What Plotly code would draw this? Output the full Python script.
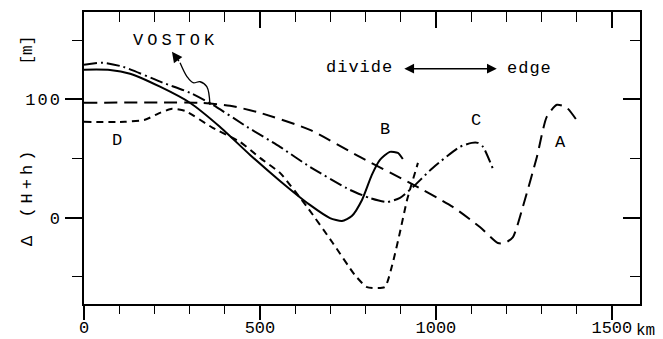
import plotly.graph_objects as go

# ---- data (km, m) ----
a_x = [0, 330, 415, 500, 642, 784, 926, 1048, 1125, 1176, 1196, 1219, 1247, 1287, 1315, 1344, 1372, 1409]
a_y = [97.2, 97.2, 94.7, 88.7, 74.3, 51.4, 29.4, 9.1, -7.9, -21.4, -21.4, -16.4, 9.1, 51.4, 85.3, 95.5, 93, 78.6]

b_x = [0, 74, 131, 216, 301, 386, 472, 557, 642, 699, 733, 761, 790, 818, 841, 869, 892, 906]
b_y = [125.2, 125, 121.8, 110.8, 97.2, 76.9, 53.1, 31.1, 10.8, -0.3, -2.8, 1.4, 15, 36.2, 48.9, 55.7, 54.8, 49.7]

c_x = [0, 54, 111, 224, 301, 366, 463, 557, 642, 756, 812, 861, 898, 935, 991, 1068, 1102, 1119, 1134, 1162]
c_y = [129.4, 131.1, 127.7, 114.2, 105.7, 95.5, 76.9, 59.9, 43, 23.5, 16.7, 13.3, 16.7, 26, 42.1, 59.9, 63.3, 63.3, 59.9, 41.3]

d_x = [0, 116, 173, 216, 250, 287, 366, 443, 500, 557, 634, 707, 770, 804, 855, 878, 898, 918, 949]
d_y = [81.1, 81.1, 82.8, 88.7, 92.1, 90.4, 76, 64.2, 50.6, 37.9, 9.1, -21.4, -48.6, -58.7, -58.7, -37.5, -12.1, 15, 46.4]

vostok_x = [358, 349, 330, 310, 293, 273]
vostok_y = [95.4, 110.8, 115, 114.2, 119.2, 131.1]

x_ticks = [0, 500, 1000, 1500]
x_labels = ["0", "500", "1000", "1500"]
y_ticks = [0, 100]
y_labels = ["0", "100"]

FONT = "Liberation Mono"


def ls(text, px):
    return '<span style="letter-spacing:%dpx">%s</span>' % (px, text)


fig = go.Figure()
fig.add_trace(go.Scatter(x=a_x, y=a_y, mode="lines", line=dict(color="black", width=2, dash="13px,7px", shape="spline", smoothing=0.6)))
fig.add_trace(go.Scatter(x=b_x, y=b_y, mode="lines", line=dict(color="black", width=2, shape="spline", smoothing=0.6)))
fig.add_trace(go.Scatter(x=c_x, y=c_y, mode="lines", line=dict(color="black", width=2, dash="13px,4px,2px,4px", shape="spline", smoothing=0.6)))
fig.add_trace(go.Scatter(x=d_x, y=d_y, mode="lines", line=dict(color="black", width=2, dash="7px,5px", shape="spline", smoothing=0.5)))
fig.add_trace(go.Scatter(x=vostok_x, y=vostok_y, mode="lines", line=dict(color="black", width=1.3, shape="spline", smoothing=1)))
fig.add_trace(go.Scatter(x=[0], y=[0], xaxis="x2", yaxis="y2", mode="markers", marker=dict(opacity=0)))

tf = dict(family=FONT, size=17, color="black")
fig.update_layout(
    width=663, height=339, showlegend=False,
    margin=dict(l=84, r=23, t=12, b=35, autoexpand=False),
    plot_bgcolor="white", paper_bgcolor="white",
    xaxis=dict(range=[0, 1580], automargin=False, showgrid=False, zeroline=False, showline=True, linecolor="black", linewidth=1.5,
               ticks="outside", tickmode="array", tickvals=x_ticks, ticktext=x_labels,
               ticklen=14, tickwidth=1.5, tickcolor="black", tickfont=tf, ticklabelstandoff=-7,
               minor=dict(tickmode="linear", tick0=0, dtick=100, ticks="outside", ticklen=8, tickwidth=1.2, tickcolor="black")),
    xaxis2=dict(range=[0, 1580], automargin=False, overlaying="x", side="top", showgrid=False, zeroline=False, showline=True,
                linecolor="black", linewidth=1.5, ticks="inside", tickmode="array", tickvals=x_ticks,
                showticklabels=False, ticklen=16, tickwidth=1.5, tickcolor="black",
                minor=dict(tickmode="linear", tick0=0, dtick=100, ticks="inside", ticklen=10, tickwidth=1.2, tickcolor="black")),
    yaxis=dict(range=[-73, 174], automargin=False, showgrid=False, zeroline=False, showline=True, linecolor="black", linewidth=1.5,
               ticks="outside", tickmode="array", tickvals=y_ticks, ticktext=[ls(t, 2) for t in y_labels],
               ticklen=17, tickwidth=1.5, tickcolor="black", tickfont=tf,
               minor=dict(tickmode="linear", tick0=0, dtick=50, ticks="outside", ticklen=10, tickwidth=1.2, tickcolor="black")),
    yaxis2=dict(range=[-73, 174], automargin=False, overlaying="y", side="right", showgrid=False, zeroline=False, showline=True,
                linecolor="black", linewidth=1.5, ticks="inside", tickmode="array", tickvals=y_ticks,
                showticklabels=False, ticklen=17, tickwidth=1.5, tickcolor="black",
                minor=dict(tickmode="linear", tick0=0, dtick=50, ticks="inside", ticklen=10, tickwidth=1.2, tickcolor="black")),
)

af = dict(family=FONT, size=17, color="black")
ann = [
    dict(text=ls("VOSTOK", 4), x=261, y=149.7),
    dict(text=ls("divide", 1), x=784, y=126.9),
    dict(text=ls("edge", 1), x=1267, y=126),
    dict(text="B", x=855, y=74.3),
    dict(text="C", x=1114, y=81.9),
    dict(text="A", x=1355, y=63.3),
    dict(text="D", x=94, y=65),
]
for a in ann:
    fig.add_annotation(xref="x", yref="y", showarrow=False, font=af, xanchor="center", yanchor="middle", **a)

# arrows
fig.add_annotation(x=250, y=140.4, ax=273, ay=131.1, xref="x", yref="y", axref="x", ayref="y",
                   showarrow=True, arrowhead=2, arrowsize=1.6, arrowwidth=1.3, arrowcolor="black", text="")
fig.add_annotation(x=1173, y=126, ax=906, ay=126, xref="x", yref="y", axref="x", ayref="y",
                   showarrow=True, arrowhead=2, startarrowhead=2, arrowside="end+start",
                   arrowsize=1.5, startarrowsize=1.5, arrowwidth=1.3, arrowcolor="black", text="")

# axis title pieces and unit
fig.add_annotation(text="[m]", xref="paper", yref="paper", x=-0.1205, y=0.9247, showarrow=False,
                   textangle=-90, font=dict(family=FONT, size=16, color="black"))
fig.add_annotation(text=ls("Δ (H+h)", 4), xref="paper", yref="paper", x=-0.1223, y=0.1918, showarrow=False,
                   textangle=-90, font=dict(family=FONT, size=17, color="black"))
fig.add_annotation(text="km", xref="paper", yref="paper", x=1.029, y=-0.0925, xanchor="right", yanchor="middle",
                   showarrow=False, borderpad=0, font=dict(family=FONT, size=16, color="black"))

fig.write_html("out.html")
